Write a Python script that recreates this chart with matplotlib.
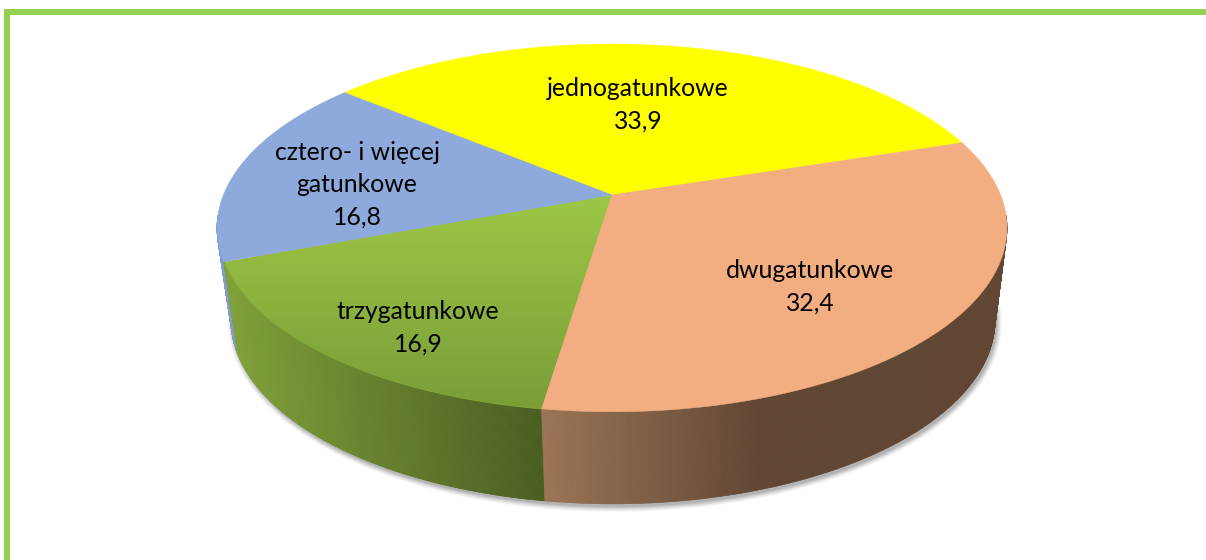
import numpy as np
import matplotlib
matplotlib.use("Agg")
import matplotlib.pyplot as plt
from matplotlib.colors import to_rgb
from matplotlib.patches import Polygon, Rectangle
from matplotlib.collections import PolyCollection

# --- data ---------------------------------------------------------------
categories = ["jednogatunkowe", "dwugatunkowe", "trzygatunkowe", "cztero- i więcej\ngatunkowe"]
values = [33.9, 32.4, 16.9, 16.8]
top_colors = ["#FFFF00", "#F2AE80", "#9BC544", "#8EA9DB"]
label_xy = [(638, 105), (810, 287), (418, 328), (357, 185)]

# --- geometry of the projected pie (pixels) -----------------------------
W, H = 1206, 560
START = 140.1            # angle of first slice's leading edge, clockwise
APEX = (612.0, 195.0)
C, A, K = 0.179, 178.0, 388.6
TOP_C = (612.0, 228.0); TOP_RX = 395.0
BOT_C = (613.0, 320.0); BOT_RX = 382.0


def project(deg):
    t = np.radians(np.asarray(deg, float))
    u, v = np.cos(t), np.sin(t)
    d = 1 + C * v
    return APEX[0] + K * u / d, APEX[1] - A * v / d


def lower(x, y):
    return BOT_C[0] + (x - TOP_C[0]) * BOT_RX / TOP_RX, y + (BOT_C[1] - TOP_C[1])


def lerp_color(c0, c1, f):
    a, b = np.array(to_rgb(c0)), np.array(to_rgb(c1))
    return tuple(a + (b - a) * float(np.clip(f, 0, 1)))


fig = plt.figure(figsize=(W / 100, H / 100), dpi=100, facecolor="white")
ax = fig.add_axes([0, 0, 1, 1])
ax.set_axis_off()

# frame
frame = "#92D050"
ax.add_patch(Rectangle((4, 9), W - 4, 6, fc=frame, ec="none"))
ax.add_patch(Rectangle((4, 9), 6, H - 9, fc=frame, ec="none"))

# slice angles from the values
total = sum(values)
edges = START - np.cumsum([0] + values) / total * 360.0

# soft drop shadow
tt = np.linspace(0, 2 * np.pi, 360)
for grow, alpha in zip([5, 4, 3, 2, 1, 0], [.04, .05, .07, .08, .10, .12]):
    sx = BOT_C[0] + 2 + (BOT_RX + grow) * np.cos(tt)
    sy = BOT_C[1] + 3 + (184 + grow) * np.sin(tt)
    ax.add_patch(Polygon(np.c_[sx, sy], fc="#404040", ec="none", alpha=alpha, zorder=1))


def wall_color(i, x):
    if i == 2:
        return lerp_color("#80A03A", "#4A5E22", (x - 232) / (541 - 232))
    if i == 1:
        return lerp_color("#9C7556", "#604633", (x - 541) / (760 - 541))
    return to_rgb("#7F9BD0")


# side walls: blue, then green, then brown
for i in [3, 2, 1]:
    a = np.linspace(edges[i], edges[i + 1], 500)
    x, y = project(a)
    xb, yb = lower(x, y)
    quads, cols = [], []
    for j in range(len(a) - 1):
        if min(y[j], y[j + 1]) < 215:
            continue
        quads.append([(x[j], y[j]), (x[j + 1], y[j + 1]), (xb[j + 1], yb[j + 1]), (xb[j], yb[j])])
        cols.append(wall_color(i, (x[j] + xb[j]) / 2))
    ax.add_collection(PolyCollection(quads, facecolors=cols, edgecolors=cols, linewidths=0.5, zorder=2))

# top faces
for i in range(4):
    a = np.linspace(edges[i], edges[i + 1], 300)
    x, y = project(a)
    pts = np.vstack([[APEX], np.c_[x, y]])
    if i == 2:
        poly = Polygon(pts, fc="none", ec="none", zorder=3)
        ax.add_patch(poly)
        grad = np.linspace(0, 1, 256)[:, None, None]
        c0, c1 = np.array(to_rgb("#9DC746")), np.array(to_rgb("#7A9C38"))
        img = c0 + (c1 - c0) * grad
        im = ax.imshow(img, extent=(200, 640, 412, 195), aspect="auto", zorder=3, interpolation="bilinear")
        im.set_clip_path(poly)
        ax.plot(x, y, color="#84A63C", lw=0.7, zorder=3)
    else:
        ax.add_patch(Polygon(pts, fc=top_colors[i], ec=top_colors[i], lw=0.3, zorder=4))

# labels
for name, val, (lx, ly) in zip(categories, values, label_xy):
    ax.text(lx, ly, f"{name}\n{val:.1f}".replace(".", ","), ha="center", va="center",
            family=["Lato", "DejaVu Sans"], fontsize=17.8, color="black", linespacing=1.48, zorder=6)

ax.set_xlim(0, W)
ax.set_ylim(H, 0)
fig.savefig("out.png", dpi=100, facecolor="white")
